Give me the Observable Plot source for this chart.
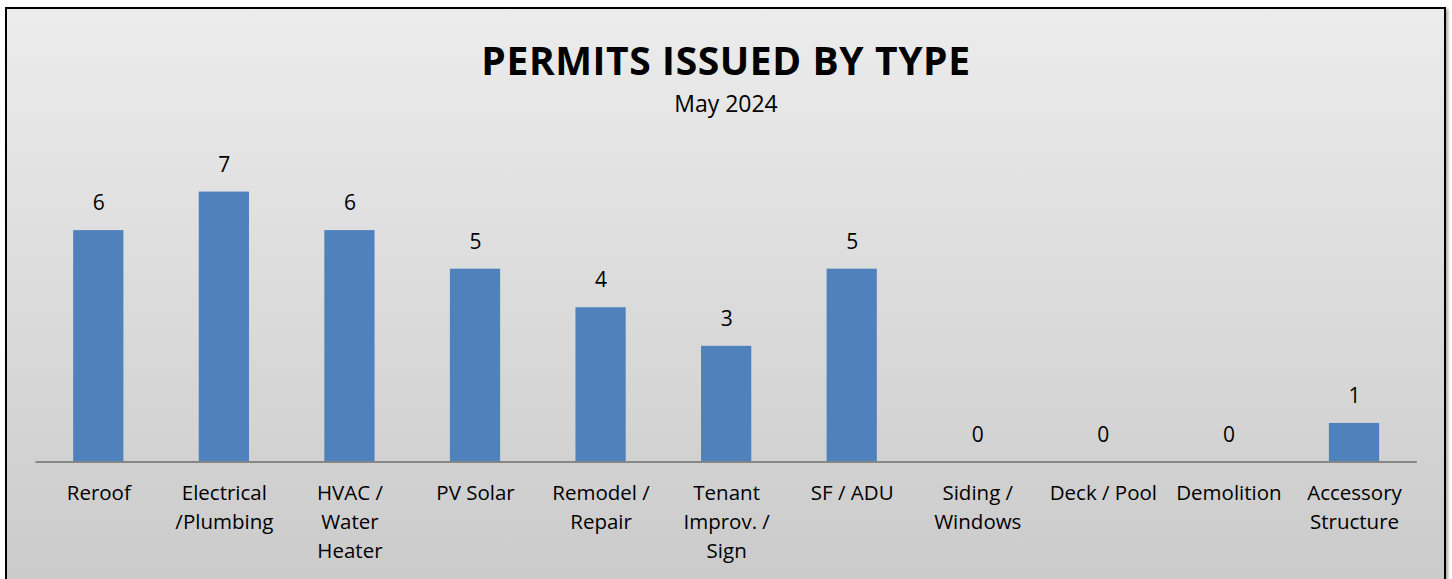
<!DOCTYPE html>
<html>
<head>
<meta charset="utf-8">
<script src="https://cdn.jsdelivr.net/npm/d3@7"></script>
<script src="https://cdn.jsdelivr.net/npm/@observablehq/plot@0.6"></script>
<style>
  html, body { margin: 0; padding: 0; width: 1452px; height: 579px; overflow: hidden; background: #ffffff; }
  #frame {
    position: absolute; left: 5px; top: 7px; width: 1437px; height: 620px;
    border: 2px solid #000;
    background: linear-gradient(to bottom, #ececec 0%, #c8c8c8 100%);
    box-shadow: 2px 2px 3px rgba(0,0,0,0.35);
  }
  .t { position: absolute; left: 0; width: 1452px; text-align: center; font-family: "Open Sans", sans-serif; color: #000; white-space: nowrap; }
  #title { top: 40px; font-size: 39px; line-height: 39px; font-weight: 700; letter-spacing: 0.6px; }
  #subtitle { top: 92px; font-size: 23px; line-height: 23px; }
  #chart { position: absolute; left: 0; top: 130px; }
</style>
</head>
<body>
<div id="frame"></div>
<div class="t" id="title">PERMITS ISSUED BY TYPE</div>
<div class="t" id="subtitle">May 2024</div>
<div id="chart"></div>
<script>
const categories = ["Reroof", "Electrical /Plumbing", "HVAC / Water Heater", "PV Solar", "Remodel / Repair", "Tenant Improv. / Sign", "SF / ADU", "Siding / Windows", "Deck / Pool", "Demolition", "Accessory Structure"];
const tickLabels = ["Reroof", "Electrical\n/Plumbing", "HVAC /\nWater\nHeater", "PV Solar", "Remodel /\nRepair", "Tenant\nImprov. /\nSign", "SF / ADU", "Siding /\nWindows", "Deck / Pool", "Demolition", "Accessory\nStructure"];
const permits = [6, 7, 6, 5, 4, 3, 5, 0, 0, 0, 1];

const data = categories.map((c, i) => ({category: c, value: permits[i]}));
const labelOf = new Map(categories.map((c, i) => [c, tickLabels[i]]));

const chart = Plot.plot({
  width: 1452,
  height: 449,
  marginLeft: 35.5,
  marginRight: 35.2,
  marginTop: 23,
  marginBottom: 117.5,
  style: {background: "transparent", fontFamily: "Open Sans, sans-serif", color: "#000", overflow: "visible"},
  x: {domain: categories, paddingInner: 0.6, paddingOuter: 0.3, align: 0.5, round: false, label: null},
  y: {domain: [0, 8], axis: null},
  marks: [
    Plot.barY(data, {x: "category", y: "value", fill: "#4F81BD"}),
    Plot.ruleY([0], {stroke: "#868686", strokeWidth: 2}),
    Plot.text(data, {x: "category", y: "value", text: d => String(d.value), dy: -27, fontSize: 21, fill: "#000"}),
    Plot.axisX({tickSize: 0, tickPadding: 17, fontSize: 20.5, lineHeight: 1.42, tickFormat: d => labelOf.get(d), fill: "#000", label: null})
  ]
});
document.getElementById("chart").appendChild(chart);
</script>
</body>
</html>
